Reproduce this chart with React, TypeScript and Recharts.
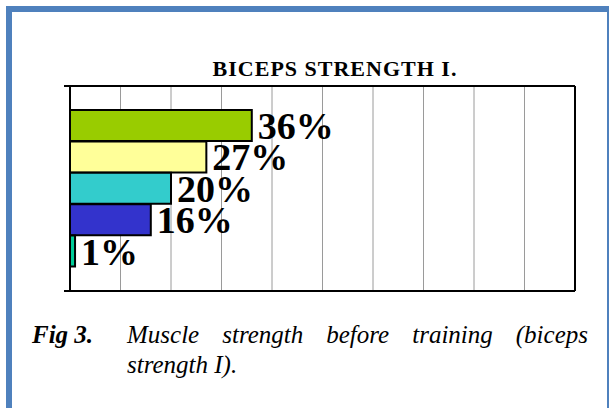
import React from "react";
import {
  BarChart,
  Bar,
  XAxis,
  YAxis,
  CartesianGrid,
  Cell,
  LabelList
} from "recharts";

// groups are not labelled in the source figure
const groups = ["g1", "g2", "g3", "g4", "g5"];
const percents = [36, 27, 20, 16, 1];
const xTicks = [0, 10, 20, 30, 40, 50, 60, 70, 80, 90, 100];

const barColors = ["#99cc00", "#ffff99", "#33cccc", "#3333cc", "#00cc99"];
const serif = "Liberation Serif";

const data = groups.map((g, i) => ({ name: g, value: percents[i] }));

const blank = () => "";

const App: React.FC = () => {
  return (
    <div
      style={{
        position: "fixed",
        left: 0,
        top: 0,
        width: 609,
        height: 408,
        background: "#fff",
        overflow: "hidden",
        fontFamily: serif
      }}
    >
      <div
        style={{
          position: "absolute",
          left: 6,
          top: 6,
          width: 595,
          height: 420,
          borderTop: "6px solid #4f81bd",
          borderLeft: "6px solid #4f81bd",
          borderRight: "6px solid #4f81bd"
        }}
      />
      <div
        style={{
          position: "absolute",
          left: 135,
          width: 400,
          top: 58,
          textAlign: "center",
          fontSize: 22,
          lineHeight: "22px",
          fontWeight: "bold",
          letterSpacing: 1,
          color: "#000"
        }}
      >
        BICEPS STRENGTH I.
      </div>
      <div style={{ position: "absolute", left: 0, top: 0 }}>
        <BarChart
          width={609}
          height={408}
          data={data}
          layout="vertical"
          barCategoryGap={0}
          margin={{ top: 85, right: 33, bottom: 116, left: 69 }}
        >
          <CartesianGrid
            horizontal={false}
            stroke="#9a9a9a"
            strokeWidth={1}
            yAxisId="cat"
          />
          <XAxis
            type="number"
            domain={[0, 100]}
            ticks={xTicks}
            tickFormatter={blank}
            tickLine={false}
            height={1}
            axisLine={{ stroke: "#000", strokeWidth: 2 }}
          />
          <XAxis
            xAxisId="top"
            orientation="top"
            type="number"
            domain={[0, 100]}
            ticks={xTicks}
            tick={false}
            tickLine={false}
            height={1}
            axisLine={{ stroke: "#000", strokeWidth: 2 }}
          />
          <YAxis
            yAxisId="cat"
            type="category"
            dataKey="name"
            hide
            width={0}
            padding={{ top: 24, bottom: 24 }}
          />
          <YAxis
            yAxisId="frame"
            type="category"
            dataKey="name"
            scale="point"
            ticks={[groups[0], groups[groups.length - 1]]}
            tickFormatter={blank}
            tickSize={6}
            width={1}
            tickLine={{ stroke: "#000", strokeWidth: 2 }}
            axisLine={{ stroke: "#000", strokeWidth: 2 }}
          />
          <YAxis
            yAxisId="right"
            orientation="right"
            type="category"
            dataKey="name"
            tick={false}
            tickLine={false}
            width={1}
            axisLine={{ stroke: "#000", strokeWidth: 2 }}
          />
          <Bar
            dataKey="value"
            yAxisId="cat"
            stroke="#000"
            strokeWidth={2}
            isAnimationActive={false}
          >
            {data.map((d, i) => (
              <Cell key={d.name} fill={barColors[i]} />
            ))}
            <LabelList
              dataKey="value"
              position="right"
              offset={6}
              formatter={(v: any) => `${v}%`}
              fill="#000"
              fontSize={38}
              fontWeight="bold"
              fontFamily={serif}
            />
          </Bar>
        </BarChart>
      </div>
      <div
        style={{
          position: "absolute",
          left: 32,
          top: 322,
          fontSize: 25,
          lineHeight: "25px",
          fontWeight: "bold",
          fontStyle: "italic",
          color: "#000"
        }}
      >
        Fig 3.
      </div>
      <div
        style={{
          position: "absolute",
          left: 127,
          width: 461,
          top: 322,
          fontSize: 25,
          lineHeight: "25px",
          fontStyle: "italic",
          textAlign: "justify",
          textAlignLast: "justify",
          color: "#000"
        }}
      >
        Muscle strength before training (biceps
      </div>
      <div
        style={{
          position: "absolute",
          left: 127,
          top: 352,
          fontSize: 25,
          lineHeight: "25px",
          fontStyle: "italic",
          color: "#000"
        }}
      >
        strength I).
      </div>
    </div>
  );
};

export default App;
